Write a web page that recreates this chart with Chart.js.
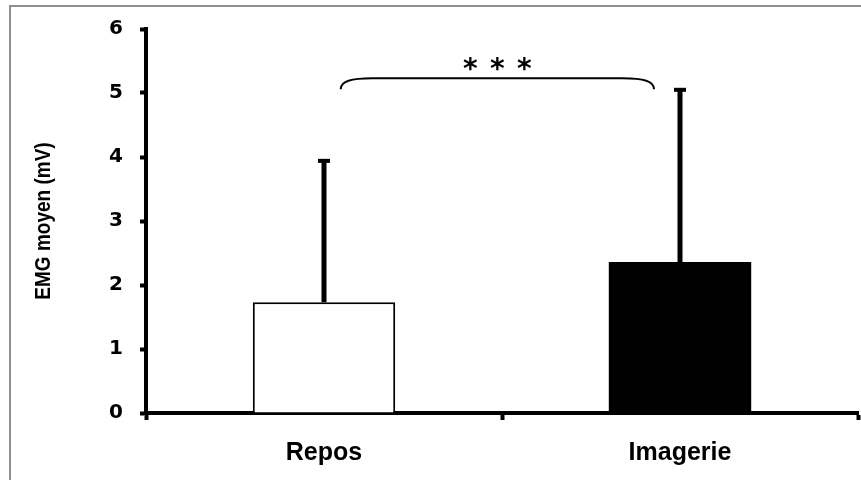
<!DOCTYPE html>
<html>
<head>
<meta charset="utf-8">
<script src="https://cdn.jsdelivr.net/npm/chart.js@4.4.0/dist/chart.umd.min.js"></script>
<style>
  html, body { margin: 0; padding: 0; background: #fff; overflow: hidden; }
  canvas { display: block; }
</style>
</head>
<body>
<canvas id="chart" width="861" height="480"></canvas>
<script>
// values
const categories = ["Repos", "Imagerie"];
const means = [1.73, 2.36];
const upperErrors = [2.21, 2.69];
const yTicks = [0, 1, 2, 3, 4, 5, 6];
const barFills = ["#ffffff", "#000000"];
const yTitle = "EMG moyen (mV)";

// significance bracket between the two bars
const sigLabel = ["*", "*", "*"];
const bracketLevel = 5.23;
const bracketEndLevel = 5.06;
const starLevel = 5.46;

// thin grey frame of the original figure (left and top edges only)
const frame = {
  id: "frame",
  beforeDraw(chart) {
    const ctx = chart.ctx;
    ctx.save();
    ctx.fillStyle = "#fff";
    ctx.fillRect(0, 0, chart.width, chart.height);
    ctx.strokeStyle = "#8f8f8f";
    ctx.lineWidth = 2;
    ctx.beginPath();
    ctx.moveTo(10, chart.height);
    ctx.lineTo(10, 6);
    ctx.lineTo(chart.width, 6);
    ctx.stroke();
    ctx.restore();
  }
};

// y axis title
const axisTitle = {
  id: "axisTitle",
  afterDraw(chart) {
    const ctx = chart.ctx;
    const area = chart.chartArea;
    ctx.save();
    ctx.translate(44, (area.top + area.bottom) / 2);
    ctx.rotate(-Math.PI / 2);
    ctx.scale(1, 1.15);
    ctx.fillStyle = "#000";
    ctx.font = "bold 19px 'Liberation Sans'";
    ctx.textAlign = "center";
    ctx.textBaseline = "middle";
    ctx.fillText(yTitle, 0, 0);
    ctx.restore();
  }
};

const errorBars = {
  id: "errorBars",
  afterDatasetsDraw(chart) {
    const ctx = chart.ctx;
    const y = chart.scales.y;
    chart.getDatasetMeta(0).data.forEach((bar, i) => {
      const top = y.getPixelForValue(means[i] + upperErrors[i]);
      ctx.save();
      ctx.strokeStyle = "#000";
      ctx.lineWidth = 5;
      ctx.beginPath();
      ctx.moveTo(bar.x, bar.y);
      ctx.lineTo(bar.x, top);
      ctx.stroke();
      ctx.fillStyle = "#000";
      ctx.fillRect(bar.x - 6, top - 2, 12, 4);
      ctx.restore();
    });
  }
};

const bracket = {
  id: "bracket",
  afterDraw(chart) {
    const ctx = chart.ctx;
    const x = chart.scales.x, y = chart.scales.y;
    const step = x.getPixelForValue(1) - x.getPixelForValue(0);
    const x0 = x.getPixelForValue(0) + 0.047 * step;
    const x1 = x.getPixelForValue(1) - 0.073 * step;
    const yTop = y.getPixelForValue(bracketLevel);
    const yEnd = y.getPixelForValue(bracketEndLevel);
    ctx.save();
    ctx.strokeStyle = "#000";
    ctx.lineWidth = 2;
    ctx.beginPath();
    ctx.moveTo(x0, yEnd);
    ctx.bezierCurveTo(x0, yTop + 3, x0 + 10, yTop, x0 + 32, yTop);
    ctx.lineTo(x1 - 32, yTop);
    ctx.bezierCurveTo(x1 - 10, yTop, x1, yTop + 3, x1, yEnd);
    ctx.stroke();

    ctx.fillStyle = "#000";
    ctx.font = "bold 28px 'DejaVu Sans'";
    ctx.textAlign = "center";
    ctx.textBaseline = "alphabetic";
    const m = ctx.measureText("*");
    const cy = y.getPixelForValue(starLevel);
    const base = cy + (m.actualBoundingBoxAscent - m.actualBoundingBoxDescent) / 2;
    const cx = (x0 + x1) / 2;
    sigLabel.forEach((s, i) => {
      ctx.fillText(s, cx + (i - 1) * 27, base);
    });
    ctx.restore();
  }
};

new Chart(document.getElementById("chart"), {
  type: "bar",
  data: {
    labels: categories,
    datasets: [{
      data: means,
      backgroundColor: barFills,
      borderColor: "#000",
      borderWidth: [2, 0],
      barPercentage: 0.4,
      categoryPercentage: 1
    }]
  },
  options: {
    responsive: false,
    animation: false,
    layout: { padding: { top: 29, right: 3, left: 0, bottom: 0 } },
    plugins: { legend: { display: false }, tooltip: { enabled: false } },
    scales: {
      x: {
        afterFit: s => { s.height = 67; },
        border: { display: true, width: 4, color: "#000" },
        grid: { offset: true, drawOnChartArea: false, tickLength: 7, tickWidth: 4, tickColor: "#000" },
        ticks: { color: "#000", padding: 18, font: { family: "'Liberation Sans'", weight: "bold", size: 25 } }
      },
      y: {
        min: 0,
        max: 6,
        afterFit: s => { s.width = 146; },
        afterBuildTicks: s => { s.ticks = yTicks.map(v => ({ value: v })); },
        border: { display: true, width: 4, color: "#000" },
        grid: { drawOnChartArea: false, tickLength: 6, tickWidth: 4, tickColor: "#000" },
        ticks: { color: "#000", padding: 17, font: { family: "'DejaVu Sans'", weight: "bold", size: 20 } }
      }
    }
  },
  plugins: [frame, errorBars, bracket, axisTitle]
});
</script>
</body>
</html>
